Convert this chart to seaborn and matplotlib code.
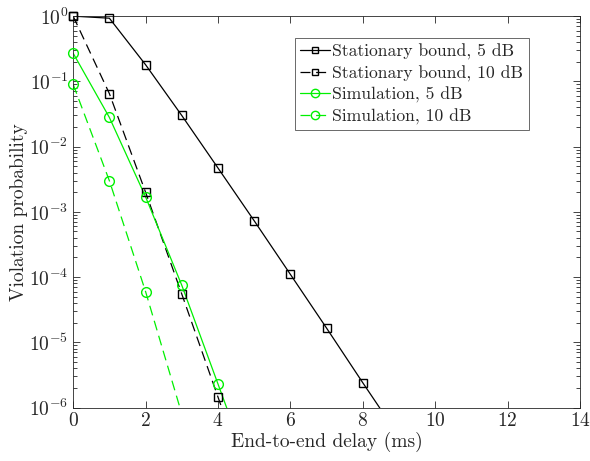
import matplotlib
matplotlib.use("Agg")
import matplotlib.pyplot as plt
from matplotlib.lines import Line2D
import seaborn as sns
import pandas as pd
import numpy as np

# values
delay_bound5 = [0, 1, 2, 3, 4, 5, 6, 7, 8, 9]
bound_5db = [1.0, 0.93, 0.18, 0.030, 0.0047, 0.00073, 1.1e-4, 1.65e-5, 2.4e-6, 3.6e-7]
delay_bound10 = [0, 1, 2, 3, 4, 5]
bound_10db = [1.0, 0.065, 0.0020, 5.5e-5, 1.45e-6, 4e-8]
delay_sim5 = [0, 1, 2, 3, 4, 5]
sim_5db = [0.27, 0.028, 0.0017, 7.5e-5, 2.3e-6, 7e-8]
delay_sim10 = [0, 1, 2, 3]
sim_10db = [0.09, 0.0030, 6.0e-5, 8e-7]

labels = ["Stationary bound, 5 dB", "Stationary bound, 10 dB",
          "Simulation, 5 dB", "Simulation, 10 dB"]

sns.set_style("ticks")
plt.rcParams["font.family"] = ["cmr10", "DejaVu Serif"]
plt.rcParams["mathtext.fontset"] = "cm"
plt.rcParams["axes.formatter.use_mathtext"] = True
plt.rcParams["axes.unicode_minus"] = False

grey = "#262626"
green = "#00f000"
dashed = (0, (8, 4.5))

fig = plt.figure(figsize=(5.9, 4.61), dpi=100)
ax = fig.add_axes([0.124, 0.116, 0.859, 0.849])

series = [
    (delay_bound5, bound_5db, "k", "-", "s", 5.5),
    (delay_bound10, bound_10db, "k", dashed, "s", 5.5),
    (delay_sim5, sim_5db, green, "-", "o", 7),
    (delay_sim10, sim_10db, green, dashed, "o", 7),
]
handles = []
for (x, y, c, ls, m, ms), lab in zip(series, labels):
    df = pd.DataFrame({"delay": x, "prob": y})
    sns.lineplot(data=df, x="delay", y="prob", ax=ax, color=c,
                 linestyle=ls, linewidth=0.9, legend=False)
    # markers only for points inside the axes; drawn unclipped like MATLAB
    inside = df[df["prob"] >= 1e-6]
    sns.lineplot(data=inside, x="delay", y="prob", ax=ax, color=c,
                 linestyle="none", marker=m, markersize=ms,
                 markerfacecolor="none", markeredgecolor=c,
                 markeredgewidth=1.0, clip_on=False, legend=False, zorder=3)
    handles.append(Line2D([], [], color=c, linestyle=ls, linewidth=0.9,
                          marker=m, markersize=ms - 1, markerfacecolor="none",
                          markeredgecolor=c, markeredgewidth=1.0, label=lab))

ax.set_yscale("log")
ax.set_xlim(0, 14)
ax.set_ylim(1e-6, 1)
ax.set_xticks(range(0, 15, 2))
ax.set_yticks([1e-6, 1e-5, 1e-4, 1e-3, 1e-2, 1e-1, 1])
ax.yaxis.set_minor_locator(matplotlib.ticker.LogLocator(base=10, subs=np.arange(2, 10)))
ax.yaxis.set_minor_formatter(matplotlib.ticker.NullFormatter())
ax.tick_params(which="both", direction="in", top=True, right=True,
               colors=grey, labelcolor=grey, labelsize=14)
ax.tick_params(which="major", length=5, width=0.6)
ax.tick_params(which="minor", length=3, width=0.6)
for s in ax.spines.values():
    s.set_color(grey)
    s.set_linewidth(0.6)

ax.set_xlabel("End-to-end delay (ms)", fontsize=14, color=grey, labelpad=1)
ax.set_ylabel("Violation probability", fontsize=14, color=grey, labelpad=1)

leg = ax.legend(handles=handles, loc="upper right", bbox_to_anchor=(0.899, 0.943),
                fontsize=12.7, frameon=True, fancybox=False, handlelength=1.7,
                handletextpad=0.15, borderpad=0.3, labelspacing=0.3,
                borderaxespad=0)
leg.get_frame().set_edgecolor(grey)
leg.get_frame().set_linewidth(0.6)
for t in leg.get_texts():
    t.set_color(grey)

fig.savefig("out.png", dpi=100)
